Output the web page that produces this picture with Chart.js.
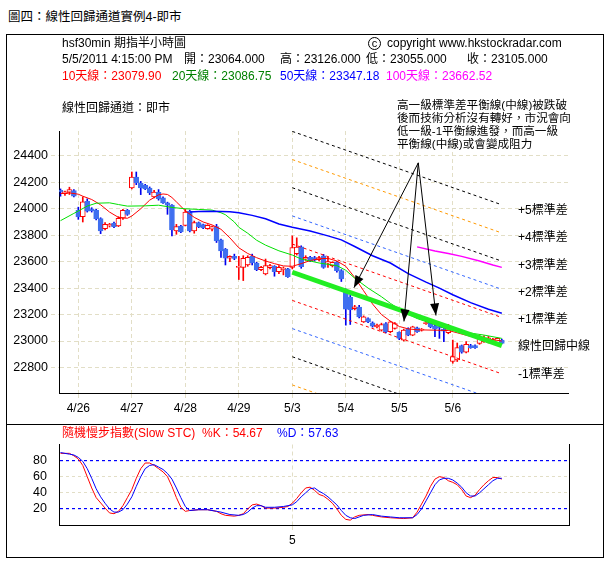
<!DOCTYPE html>
<html lang="zh-Hant">
<head>
<meta charset="UTF-8">
<title>圖四：線性回歸通道實例4-即市</title>
<script src="https://cdn.jsdelivr.net/npm/chart.js"></script>
<style>
    body {
        margin: 0;
        background: #fff;
        font-family: "Liberation Sans", Arial, "Noto Sans CJK TC", sans-serif;
        font-size: 12px;
        color: #000;
    }
    #page { position: relative; width: 611px; height: 571px; overflow: hidden; }
    .t { position: absolute; white-space: nowrap; line-height: 14px; }
    .note { font-size: 11.6px; line-height: 13px; }
    .box { position: absolute; border: 1px solid #000; box-sizing: border-box; }
    canvas { position: absolute; }
    .red { color: #ff0000; }
    .green { color: #008000; }
    .blue { color: #0000ff; }
    .mag { color: #ff00ff; }
    .circ {
        position: absolute; left: 368px; top: 37px; width: 13px; height: 13px;
        border: 1px solid #000; border-radius: 50%; box-sizing: border-box;
        font-size: 11px; line-height: 10px; text-align: center;
    }
</style>
</head>
<body>
<div id="page">
    <div class="t" style="left:8px;top:10px;font-size:12.5px;">圖四：線性回歸通道實例4-即市</div>

    <div class="box" style="left:6px;top:34px;width:598px;height:391px;"></div>
    <div class="box" style="left:6px;top:424px;width:598px;height:134px;"></div>

    <canvas id="mainChart" width="596" height="388" style="left:7px;top:35px;"></canvas>
    <canvas id="stcChart" width="596" height="131" style="left:7px;top:425px;"></canvas>

    <div class="t" style="left:62px;top:36px;">hsf30min 期指半小時圖</div>
    <div class="circ">c</div>
    <div class="t" style="left:387px;top:36px;">copyright www.hkstockradar.com</div>

    <div class="t" style="left:62px;top:52px;">5/5/2011 4:15:00 PM</div>
    <div class="t" style="left:184px;top:52px;">開：23064.000</div>
    <div class="t" style="left:280px;top:52px;">高：23126.000</div>
    <div class="t" style="left:366px;top:52px;">低：23055.000</div>
    <div class="t" style="left:467px;top:52px;">收：23105.000</div>

    <div class="t red" style="left:62px;top:69px;">10天線：23079.90</div>
    <div class="t green" style="left:172px;top:69px;">20天線：23086.75</div>
    <div class="t blue" style="left:280px;top:69px;">50天線：23347.18</div>
    <div class="t mag" style="left:386px;top:69px;">100天線：23662.52</div>

    <div class="t" style="left:62px;top:101px;">線性回歸通道：即市</div>

    <div class="t note" style="left:397px;top:98px;">高一級標準差平衡線(中線)被跌破</div>
    <div class="t note" style="left:397px;top:111px;">後而技術分析沒有轉好，市況會向</div>
    <div class="t note" style="left:397px;top:124px;">低一級-1平衡線進發，而高一級</div>
    <div class="t note" style="left:397px;top:137px;">平衡線(中線)或會變成阻力</div>

    <div class="t" style="left:518px;top:203px;">+5標準差</div>
    <div class="t" style="left:518px;top:230px;">+4標準差</div>
    <div class="t" style="left:518px;top:258px;">+3標準差</div>
    <div class="t" style="left:518px;top:285px;">+2標準差</div>
    <div class="t" style="left:518px;top:312px;">+1標準差</div>
    <div class="t" style="left:518px;top:339px;">線性回歸中線</div>
    <div class="t" style="left:518px;top:367px;">-1標準差</div>

    <div class="t" style="left:62px;top:426px;"><span class="red">隨機慢步指數(Slow STC)&nbsp;&nbsp;%K：54.67</span></div>
    <div class="t blue" style="left:277px;top:426px;">%D：57.63</div>
</div>

<script>
    // --- données (une barre = 30 min, index 0..99) ---
    const dayLabels = ['4/26', '4/27', '4/28', '4/29', '5/3', '5/4', '5/5', '5/6'];
    const dayIdx = [4, 16, 28, 40, 52, 64, 76, 88];
    const yTicks = [22800, 23000, 23200, 23400, 23600, 23800, 24000, 24200, 24400];

    const open = [
        24140, 24115, 24125, 24138, 23988, 23940, 24057, 24000, 23988, 23925,
        23850, 23870, 23890, 23870, 23928, 23988, 24157, 24240, 24195, 24178,
        24157, 24090, 24125, 24082, 24045, 24028, 23832, 23870, 23875, 23982,
        23832, 23895, 23880, 23850, 23845, 23865, 23765, 23695, 23627, 23640,
        23557, 23557, 23575, 23640, 23590, 23540, 23507, 23555, 23565, 23525,
        23540, 23545, 23557, 23660, 23712, 23620, 23632, 23630, 23615, 23645,
        23590, 23570, 23595, 23532, 23385, 23330, 23245, 23257, 23145, 23170,
        23137, 23107, 23082, 23132, 23070, 23095, 23065, 23007, 23095, 23045,
        23100, 23082, 23132, 23137, 23115, 23110, 23090, 23064, 22845, 22857,
        22965, 22915, 22965, 22965, 22982, 22995, 22990, 23000, 22982, 23007
    ];
    const high = [
        24150, 24133, 24163, 24145, 24012, 24090, 24075, 24008, 23995, 23932,
        23895, 23890, 23900, 23940, 23995, 23995, 24278, 24278, 24207, 24185,
        24165, 24140, 24145, 24090, 24050, 24032, 23882, 23875, 23995, 23990,
        23907, 23900, 23885, 23880, 23870, 23882, 23770, 23700, 23645, 23657,
        23640, 23645, 23645, 23657, 23595, 23565, 23620, 23580, 23570, 23570,
        23560, 23550, 23795, 23780, 23720, 23645, 23640, 23640, 23640, 23655,
        23632, 23600, 23600, 23540, 23395, 23345, 23270, 23270, 23190, 23175,
        23145, 23128, 23135, 23140, 23150, 23140, 23070, 23090, 23100, 23112,
        23105, 23095, 23150, 23142, 23120, 23115, 23095, 23126, 23007, 22985,
        22970, 22995, 22975, 22972, 23045, 23040, 23035, 23020, 23025, 23015
    ];
    const low = [
        24095, 24100, 24108, 24090, 23920, 23900, 23975, 23975, 23915, 23812,
        23840, 23862, 23857, 23865, 23920, 23950, 24150, 24182, 24107, 24145,
        24107, 24082, 24065, 24040, 23958, 23795, 23807, 23820, 23870, 23825,
        23815, 23857, 23850, 23845, 23832, 23745, 23632, 23575, 23600, 23615,
        23465, 23457, 23565, 23575, 23532, 23532, 23500, 23545, 23490, 23510,
        23500, 23480, 23545, 23650, 23550, 23610, 23600, 23605, 23605, 23550,
        23557, 23560, 23520, 23450, 23120, 23125, 23235, 23175, 23140, 23138,
        23105, 23100, 23075, 23062, 23062, 23090, 23010, 23000, 23040, 23040,
        23065, 23075, 23125, 23100, 23032, 23020, 22995, 23055, 22832, 22845,
        22908, 22910, 22945, 22945, 22975, 22990, 22985, 22995, 22975, 22978
    ];
    const close = [
        24127, 24128, 24145, 24095, 23938, 24052, 23982, 23985, 23925, 23832,
        23882, 23882, 23865, 23928, 23988, 23958, 24240, 24195, 24157, 24150,
        24120, 24127, 24077, 24045, 24028, 23840, 23865, 23825, 23975, 23832,
        23895, 23865, 23855, 23875, 23865, 23757, 23682, 23627, 23640, 23625,
        23565, 23625, 23632, 23590, 23540, 23557, 23570, 23570, 23525, 23557,
        23552, 23487, 23707, 23710, 23562, 23632, 23607, 23612, 23630, 23557,
        23600, 23595, 23532, 23470, 23240, 23235, 23258, 23182, 23182, 23145,
        23112, 23120, 23125, 23070, 23145, 23132, 23020, 23082, 23045, 23107,
        23070, 23090, 23140, 23107, 23090, 23100, 23075, 23105, 22882, 22950,
        22915, 22975, 22950, 22950, 23032, 23025, 23025, 23010, 23020, 22982
    ];

    // moyennes mobiles, points [index, valeur]
    const ma10 = [[0,24115],[2,24120],[4,24110],[5,24095],[7,24070],[9,24030],[11,23975],[13,23935],
        [15,23928],[16,23945],[18,24000],[20,24065],[22,24105],[23,24112],[24,24108],[25,24085],
        [26,24052],[28,23985],[30,23935],[32,23900],[34,23878],[36,23845],[38,23780],[40,23705],
        [42,23662],[44,23630],[46,23605],[48,23585],[50,23568],[52,23565],[54,23585],[56,23608],
        [58,23622],[60,23625],[62,23605],[64,23565],[66,23480],[68,23380],[70,23280],[72,23200],
        [74,23150],[76,23110],[78,23092],[80,23085],[84,23082],[87,23080],[89,23062],[92,23035],
        [95,23020],[99,23000]];
    const ma20 = [[0,23910],[3,23965],[6,24020],[8,24042],[11,24045],[13,24032],[15,24020],[19,24022],
        [22,24027],[25,24010],[28,24000],[31,23995],[34,23990],[36,23970],[37,23955],[39,23900],
        [40,23860],[42,23815],[44,23762],[46,23725],[49,23682],[52,23650],[54,23620],[58,23590],
        [62,23570],[64,23535],[66,23475],[69,23400],[72,23335],[74,23285],[77,23220],[80,23170],
        [83,23135],[87,23087],[90,23070],[95,23045],[99,23020]];
    const ma50 = [[29,23975],[31,23980],[34,23982],[38,23977],[40,23970],[43,23950],[46,23925],
        [49,23885],[52,23860],[56,23832],[60,23795],[63,23765],[66,23715],[70,23645],[74,23590],
        [78,23510],[82,23445],[85,23400],[88,23350],[92,23290],[96,23240],[99,23210]];
    const ma100 = [[80,23712],[84,23680],[87,23662],[90,23640],[94,23605],[97,23575],[99,23557]];

    // canal de régression : +5 ... -4 écarts-types, début et fin
    const regFrom = 52, regTo = 99;
    const bandStart = [24585, 24372, 24159, 23946, 23733, 23520, 23307, 23094, 22881, 22668];
    const bandEnd   = [24030, 23817, 23604, 23391, 23178, 22965, 22752, 22539, 22326, 22113];

    // flèches de l'annotation
    const arrowFrom = [80.26, 24347];
    const arrowTips = [[65.83, 23403], [77.05, 23148], [84.23, 23193]];

    // stochastique lent
    const stcK = [[0,89],[2,89],[3,86],[4,82],[5,74],[6,60],[7,46],[8,34],[10,21],[11,15],[12,14],
        [13,17],[14,24],[15,34],[16,44],[17,58],[18,70],[19,77],[20,77],[21,74],[22,70],[23,66],
        [24,60],[25,48],[26,34],[27,22],[28,17],[29,18],[31,19],[33,19],[35,17],[36,14],[37,12],
        [39,11],[40,12],[41,14],[42,20],[43,25],[44,26],[45,24],[46,21],[48,21],[50,22],[51,23],
        [52,27],[53,33],[54,40],[55,46],[56,47],[57,43],[58,38],[59,36],[60,32],[61,27],[62,20],
        [63,12],[64,7],[65,6],[66,10],[67,12],[69,13],[70,12],[72,10],[74,9],[77,8],[79,9],
        [80,16],[81,26],[82,36],[83,48],[84,57],[85,60],[86,59],[87,55],[88,53],[89,50],[90,44],
        [91,36],[92,34],[93,37],[94,44],[95,50],[96,55],[97,59],[98,59],[99,57]];
    const stcD = [[0,90],[2,88],[3,87],[4,84],[5,79],[6,70],[7,58],[8,45],[9,35],[10,27],[11,20],
        [12,16],[13,16],[14,19],[15,26],[16,35],[17,48],[18,60],[19,70],[20,74],[21,75],[22,72],
        [23,69],[24,64],[25,57],[26,46],[27,34],[28,23],[29,18],[31,19],[33,19],[35,17],[36,16],
        [38,13],[40,12],[41,13],[42,16],[43,21],[44,24],[45,24],[46,22],[48,22],[50,23],[52,25],
        [53,29],[54,35],[55,40],[56,45],[57,46],[58,42],[59,39],[60,35],[61,30],[62,25],[63,18],
        [64,12],[65,9],[66,8],[67,10],[68,12],[70,13],[72,11],[74,10],[76,9],[79,9],[80,13],
        [81,20],[82,30],[83,40],[84,50],[85,56],[86,58],[87,58],[88,56],[89,52],[90,47],[91,40],
        [92,36],[93,36],[94,40],[95,45],[96,50],[97,55],[98,58],[99,58]];
    const stcTicks = [20, 40, 60, 80];

    // --- style ---
    Chart.defaults.font.family = '"Liberation Sans", Arial, sans-serif';
    Chart.defaults.font.size = 12;
    Chart.defaults.color = '#000';

    const gridCol = '#e2dec6';
    const upCol = '#ff0000', downWick = '#0000ee', downBody = '#3f6ff0';
    const bandColors = ['#000000', '#ff9900', '#000000', '#3366ff', '#ff0000',
                        '#22ee22', '#ff0000', '#3366ff', '#000000', '#ff9900'];
    const xMin = -0.3365, step = 4.4577;

    const up = open.map((o, i) => close[i] >= o);
    const pts = arr => arr.map(([x, y]) => ({x, y}));
    const lineDs = (data, color, width) => ({
        type: 'line', data: pts(data), borderColor: color, borderWidth: width,
        pointRadius: 0, tension: 0, order: 1
    });

    const bandSets = bandStart.map((s, k) => ({
        type: 'line',
        data: [{x: regFrom, y: s}, {x: regTo, y: bandEnd[k]}],
        borderColor: bandColors[k],
        borderWidth: k === 5 ? 5 : 1,
        borderDash: k === 5 ? [] : [3, 3],
        pointRadius: 0,
        order: k === 5 ? 0 : 2
    }));

    const arrowPlugin = {
        id: 'arrows',
        afterDatasetsDraw(chart) {
            const {ctx, scales: {x, y}} = chart;
            const ax = x.getPixelForValue(arrowFrom[0]), ay = y.getPixelForValue(arrowFrom[1]);
            ctx.save();
            ctx.strokeStyle = '#000';
            ctx.fillStyle = '#000';
            ctx.lineWidth = 1;
            arrowTips.forEach(([ti, tv]) => {
                const tx = x.getPixelForValue(ti), ty = y.getPixelForValue(tv);
                const a = Math.atan2(ty - ay, tx - ax);
                const len = 12, half = 4.5;
                ctx.beginPath();
                ctx.moveTo(ax, ay);
                ctx.lineTo(tx, ty);
                ctx.stroke();
                ctx.beginPath();
                ctx.moveTo(tx, ty);
                ctx.lineTo(tx - len * Math.cos(a) + half * Math.sin(a), ty - len * Math.sin(a) - half * Math.cos(a));
                ctx.lineTo(tx - len * Math.cos(a) - half * Math.sin(a), ty - len * Math.sin(a) + half * Math.cos(a));
                ctx.closePath();
                ctx.fill();
            });
            ctx.restore();
        }
    };

    // graphique principal (chandeliers + moyennes + canal)
    new Chart(document.getElementById('mainChart'), {
        type: 'bar',
        data: {
            datasets: [
                ...bandSets,
                lineDs(ma100, '#ff00ff', 1.5),
                lineDs(ma50, '#0000ff', 1.5),
                lineDs(ma20, '#00e000', 1),
                lineDs(ma10, '#ff0000', 1),
                {
                    data: open.map((o, i) => ({x: i, y: [Math.min(o, close[i]), Math.max(o, close[i])]})),
                    backgroundColor: up.map(u => u ? '#ffffff' : downBody),
                    borderColor: up.map(u => u ? upCol : downBody),
                    borderWidth: 1,
                    borderSkipped: false,
                    barThickness: 5,
                    grouped: false,
                    order: 5
                },
                {
                    data: open.map((o, i) => ({x: i, y: [low[i], high[i]]})),
                    backgroundColor: up.map(u => u ? upCol : downWick),
                    borderWidth: 0,
                    barThickness: 1,
                    grouped: false,
                    order: 6
                }
            ]
        },
        options: {
            responsive: false,
            animation: false,
            devicePixelRatio: 1,
            layout: { padding: { top: 96, right: 35, left: 0, bottom: 0 } },
            plugins: { legend: { display: false }, tooltip: { enabled: false } },
            scales: {
                x: {
                    type: 'linear',
                    min: xMin,
                    max: xMin + 509 / step,
                    offset: false,
                    afterBuildTicks: s => { s.ticks = dayIdx.map(v => ({value: v})); },
                    afterFit: s => { s.height = 30; },
                    ticks: { callback: (v, i) => dayLabels[i], autoSkip: false, maxRotation: 0, padding: 3 },
                    grid: { color: gridCol, tickColor: gridCol, tickLength: 5, tickBorderDash: [4, 3], offset: false },
                    border: { color: '#000', width: 1, dash: [4, 3] }
                },
                y: {
                    type: 'linear',
                    min: 22607,
                    max: 24588,
                    afterBuildTicks: s => { s.ticks = yTicks.map(v => ({value: v})); },
                    afterFit: s => { s.width = 52; },
                    ticks: { callback: v => String(v), padding: 3, font: { size: 12.5 } },
                    grid: { color: gridCol, tickColor: gridCol, tickLength: 8, tickBorderDash: [4, 3] },
                    border: { color: '#000', width: 1, dash: [4, 3] }
                }
            }
        },
        plugins: [arrowPlugin]
    });

    // stochastique lent
    new Chart(document.getElementById('stcChart'), {
        type: 'line',
        data: {
            datasets: [
                { data: pts(stcD), borderColor: '#0000ff', borderWidth: 1, pointRadius: 0, tension: 0 },
                { data: pts(stcK), borderColor: '#ff0000', borderWidth: 1, pointRadius: 0, tension: 0 }
            ]
        },
        options: {
            responsive: false,
            animation: false,
            devicePixelRatio: 1,
            layout: { padding: { top: 16.7, right: 33.3, left: 0, bottom: 0 } },
            plugins: { legend: { display: false }, tooltip: { enabled: false } },
            scales: {
                x: {
                    type: 'linear',
                    min: xMin,
                    max: xMin + 510.7 / step,
                    afterBuildTicks: s => { s.ticks = [{value: 52}]; },
                    afterFit: s => { s.height = 31; },
                    ticks: { callback: () => '5', padding: 0, autoSkip: false, maxRotation: 0 },
                    grid: { color: gridCol, tickColor: gridCol, tickLength: 8, tickBorderDash: [4, 3] },
                    border: { color: '#000', width: 1, dash: [4, 3] }
                },
                y: {
                    min: 0,
                    max: 100,
                    afterBuildTicks: s => { s.ticks = stcTicks.map(v => ({value: v})); },
                    afterFit: s => { s.width = 52; },
                    ticks: { callback: v => String(v), padding: 12, font: { size: 12.5 } },
                    grid: {
                        drawTicks: false,
                        color: c => (c.tick && (c.tick.value === 20 || c.tick.value === 80)) ? '#0000ff' : gridCol,
                        lineWidth: c => (c.tick && (c.tick.value === 20 || c.tick.value === 80)) ? 1.2 : 1
                    },
                    border: { color: '#000', width: 1, dash: [3, 3] }
                },
                y2: {
                    position: 'right',
                    min: 0,
                    max: 100,
                    afterFit: s => { s.width = 0; },
                    ticks: { display: false },
                    grid: { display: false, drawTicks: false },
                    border: { display: true, color: '#000', width: 1 }
                }
            }
        }
    });
</script>
</body>
</html>
